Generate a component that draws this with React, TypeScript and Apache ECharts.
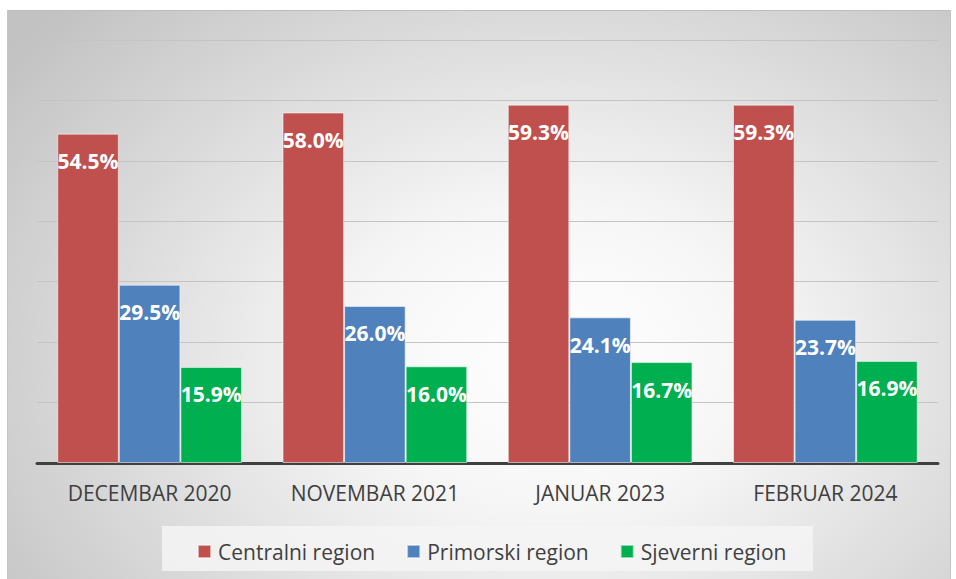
import React, { useEffect, useRef } from "react";
import * as echarts from "echarts";

const categories = ["DECEMBAR 2020", "NOVEMBAR 2021", "JANUAR 2023", "FEBRUAR 2024"];
const seriesNames = ["Centralni region", "Primorski region", "Sjeverni region"];
const centralni = [54.5, 58.0, 59.3, 59.3];
const primorski = [29.5, 26.0, 24.1, 23.7];
const sjeverni = [15.9, 16.0, 16.7, 16.9];
const colors = ["#C0504D", "#4F81BD", "#00B050"];

export default function App() {
  const ref = useRef<HTMLDivElement>(null);
  useEffect(() => {
    if (!ref.current) return;
    const chart = echarts.init(ref.current, undefined, { renderer: "svg" });
    const data = [centralni, primorski, sjeverni];
    chart.setOption({
      animation: false,
      backgroundColor: "transparent",
      textStyle: { fontFamily: "Open Sans" },
      grid: { left: 37, right: 18, top: 40, bottom: 116 },
      graphic: [
        {
          type: "rect",
          shape: { x: 162, y: 526, width: 651, height: 45 },
          style: { fill: "rgba(244,244,244,0.85)" },
          z: -10,
        },
      ],
      legend: {
        left: 197,
        top: 541,
        padding: 0,
        itemWidth: 13,
        itemHeight: 13,
        itemGap: 31,
        icon: "rect",
        data: seriesNames,
        textStyle: {
          fontFamily: "Open Sans",
          fontSize: 21,
          color: "#404040",
          padding: [0, 0, 0, 2],
        },
      },
      xAxis: {
        type: "category",
        data: categories,
        axisLine: { lineStyle: { color: "#404040", width: 3 } },
        axisTick: { show: false },
        axisLabel: {
          fontFamily: "Open Sans",
          fontSize: 21,
          color: "#404040",
          margin: 19,
        },
      },
      yAxis: {
        type: "value",
        min: 0,
        max: 70,
        interval: 10,
        axisLabel: { show: false },
        axisLine: { show: false },
        axisTick: { show: false },
        splitLine: { lineStyle: { color: "#c4c4c4", width: 1 } },
      },
      series: seriesNames.map((name, i) => ({
        name,
        type: "bar",
        data: data[i],
        barGap: "0%",
        barCategoryGap: "18%",
        itemStyle: {
          color: colors[i],
          borderColor: "rgba(255,255,255,0.55)",
          borderWidth: 1,
        },
        label: {
          show: true,
          position: "insideTop",
          distance: 17,
          formatter: (p: any) => p.value.toFixed(1) + "%",
          color: "#ffffff",
          fontFamily: "Open Sans",
          fontWeight: "bold",
          fontSize: 21,
        },
      })),
    });
    return () => chart.dispose();
  }, []);

  return (
    <div style={{ position: "absolute", left: 0, top: 0, width: 956, height: 579, background: "#ffffff", overflow: "hidden" }}>
      <div
        style={{
          position: "absolute",
          left: 7,
          top: 10,
          width: 942,
          height: 575,
          borderTop: "1px solid #bdbdbd",
          borderLeft: "1px solid #c4c4c4",
          borderRight: "1px solid #c4c4c4",
          background:
            "radial-gradient(ellipse 72% 88% at 58% 60%, #ffffff 0%, #f6f6f6 30%, #c2c2c2 100%)",
        }}
      />
      <div ref={ref} style={{ position: "absolute", left: 0, top: 0, width: 956, height: 579 }} />
    </div>
  );
}
